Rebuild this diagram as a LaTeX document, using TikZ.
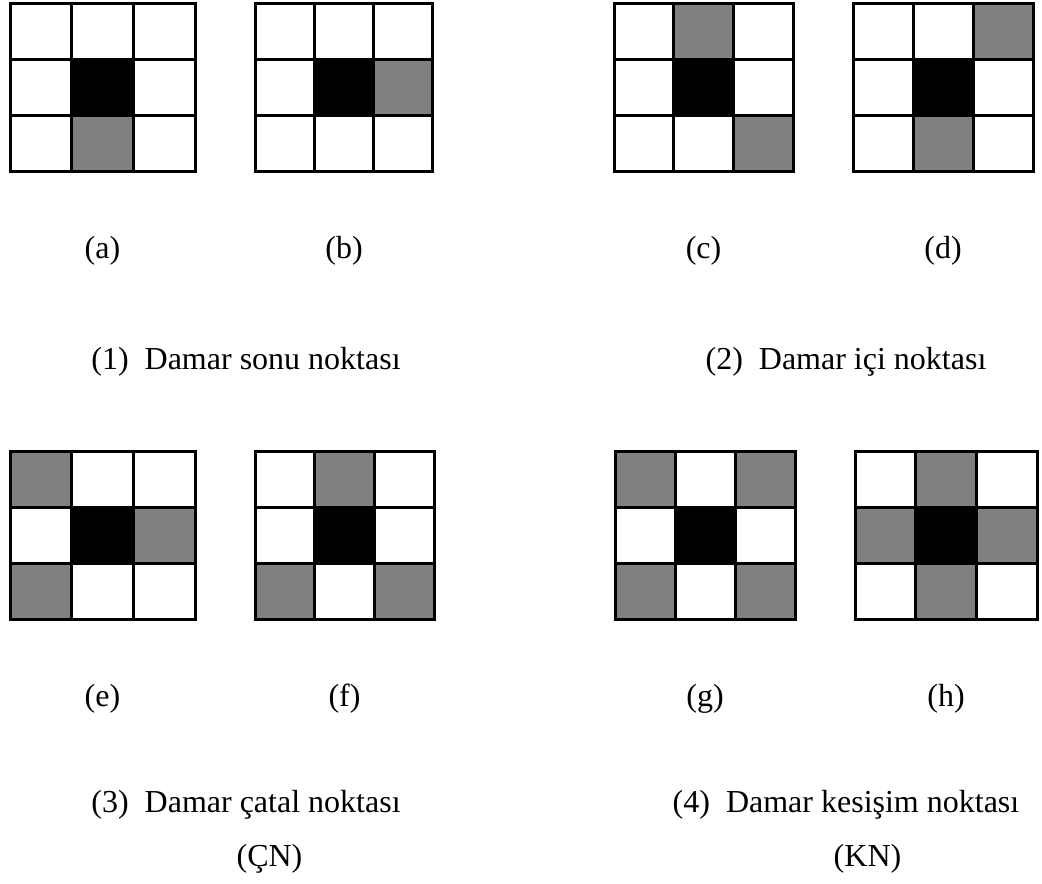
\documentclass[tikz,border=0pt]{standalone}
\usepackage{fontspec}
\setmainfont{Liberation Serif}

\begin{document}
\begin{tikzpicture}
  [x=0.75pt,y=-0.75pt,
   lbl/.style={anchor=base,inner sep=0pt,font=\fontsize{24}{29}\selectfont},
   pix/.style={line width=2.25pt},
   nbr/.style={fill=gray}]
  \useasboundingbox (0,0) rectangle (1042,884);

  % 3x3 neighbourhoods: left x / top y / cell width / grey neighbours (col/row)
  \foreach \gx/\gy/\gw/\cells in {10/4/61.67/{1/2}, 255/4/59.33/{2/1},
      614/4/59.67/{1/0,2/2}, 853/4/60/{2/0,1/2},
      10/451/61.67/{0/0,2/1,0/2}, 255/451/59.67/{1/0,0/2,2/2},
      615/451/60/{0/0,2/0,0/2,2/2}, 855/451/60.67/{1/0,0/1,2/1,1/2}}
  {
    \foreach \cx/\cy in \cells
      \fill[nbr] (\gx+\cx*\gw,\gy+\cy*56) rectangle ++(\gw,56);
    \fill[black] (\gx+\gw,\gy+56) rectangle ++(\gw,56);
    \foreach \i in {0,1,2}
      \foreach \j in {0,1,2}
        \draw[pix] (\gx+\i*\gw,\gy+\j*56) rectangle ++(\gw,56);
  }

  % sub-figure labels
  \node[lbl] (la) at (102.5,259) {(a)};
  \node[lbl] (lb) at (344,259) {(b)};
  \node[lbl] (lc) at (703.5,259) {(c)};
  \node[lbl] (ld) at (943,259) {(d)};
  \node[lbl] (le) at (102.5,706) {(e)};
  \node[lbl] (lf) at (344.5,706) {(f)};
  \node[lbl] (lg) at (705,706) {(g)};
  \node[lbl] (lh) at (946,706) {(h)};

  % point types
  \node[lbl] (t1) at (246,369) {(1)\enskip Damar sonu noktası};
  \node[lbl] (t2) at (846,369) {(2)\enskip Damar içi noktası};
  \node[lbl] (t3) at (246,812) {(3)\enskip Damar çatal noktası};
  \node[lbl] (t4) at (846,812) {(4)\enskip Damar kesişim noktası};
  \node[lbl] (cn) at (269.5,866) {(ÇN)};
  \node[lbl] (kn) at (867.5,866) {(KN)};
\end{tikzpicture}
\end{document}
